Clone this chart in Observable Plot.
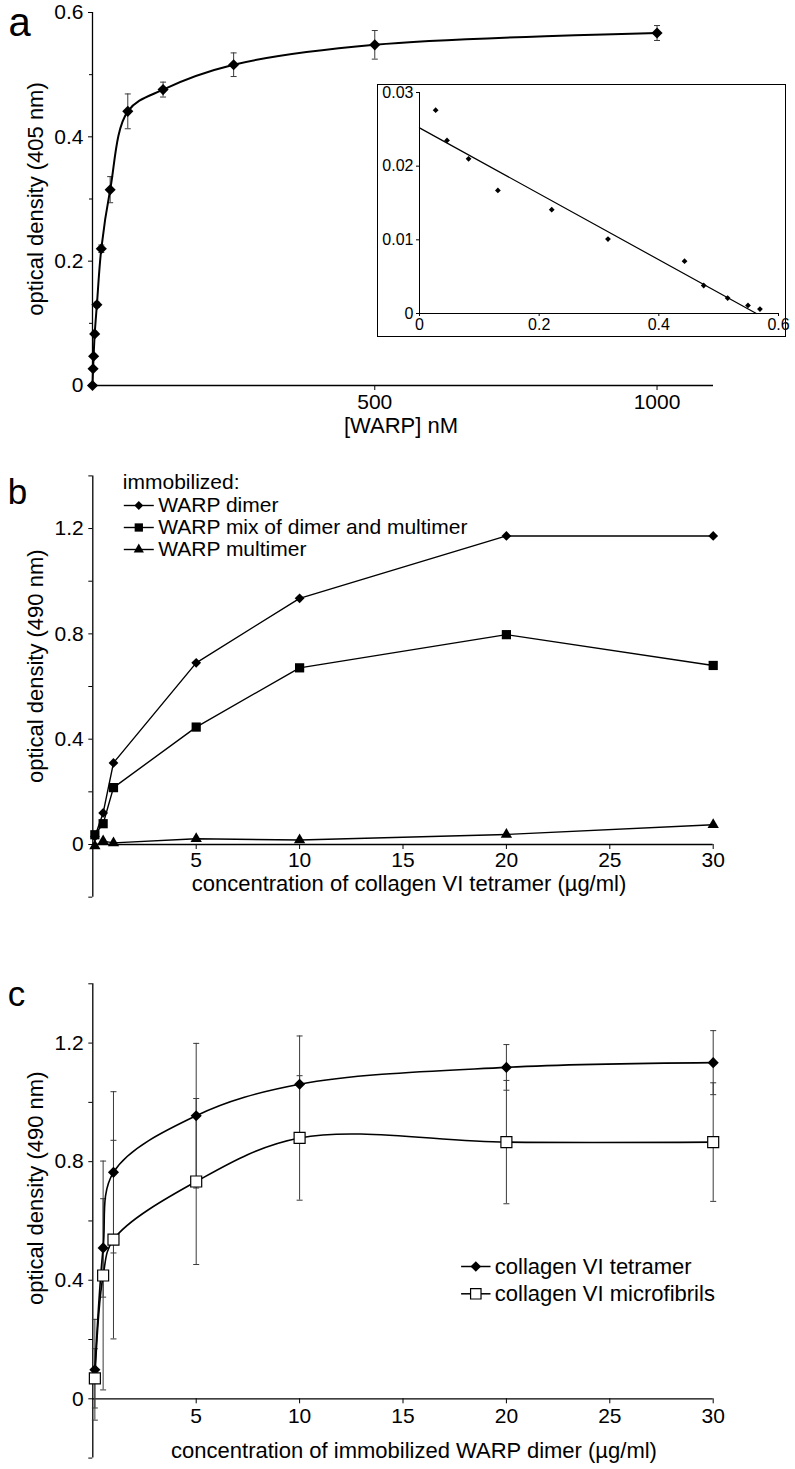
<!DOCTYPE html>
<html><head><meta charset="utf-8">
<script src="https://cdn.jsdelivr.net/npm/d3@7"></script>
<script src="https://cdn.jsdelivr.net/npm/@observablehq/plot@0.6"></script>
<style>
html,body{margin:0;padding:0;background:#fff;}
#wrap{position:relative;width:795px;height:1469px;overflow:hidden;background:#fff;}
.pane{position:absolute;}
#inset{border:1.5px solid #000;background:#fff;}
</style></head><body><div id="wrap"></div>
<script>
// ---------- Panel a: binding curve ----------
const aConc = [0, 1, 2, 3.9, 7.8, 15.6, 31.3, 62.5, 125, 250, 500, 1000];
const aOD   = [0, 0.027, 0.047, 0.083, 0.130, 0.220, 0.315, 0.441, 0.476, 0.516, 0.548, 0.567];
const aErr  = [0, 0, 0, 0, 0.004, 0.006, 0.021, 0.028, 0.012, 0.019, 0.023, 0.012];
const aXTicks = [500, 1000];
const aYTicks = [0, 0.2, 0.4, 0.6];
const aYMinor = [0.1, 0.3, 0.5];
// ---------- Panel a inset: Scatchard plot ----------
const insetX = [0.027, 0.046, 0.082, 0.131, 0.221, 0.315, 0.443, 0.475, 0.515, 0.549, 0.569];
const insetY = [0.0276, 0.0235, 0.0210, 0.0167, 0.0141, 0.0101, 0.0071, 0.0038, 0.0021, 0.0011, 0.0006];
const fitX = [0, 0.563];
const fitY = [0.0252, 0];
const insetXTicks = [0, 0.2, 0.4, 0.6];
const insetYTicks = [0, 0.01, 0.02, 0.03];
// ---------- Panel b ----------
const bConc  = [0.1, 0.5, 1, 5, 10, 20, 30];
const bDimer = [0.03, 0.12, 0.31, 0.69, 0.935, 1.172, 1.172];
const bMix   = [0.037, 0.079, 0.216, 0.446, 0.671, 0.797, 0.680];
const bMulti = [-0.006, 0.013, 0.006, 0.022, 0.017, 0.038, 0.075];
const bSeries = ["WARP dimer", "WARP mix of dimer and multimer", "WARP multimer"];
const bLegendTitle = "immobilized:";
// ---------- Panel c ----------
const cConc      = [0.1, 0.5, 1, 5, 10, 20, 30];
const cTetramer  = [0.098, 0.509, 0.764, 0.955, 1.061, 1.118, 1.134];
const cTetErr    = [0.17, 0.166, 0.272, 0.244, 0.163, 0.077, 0.108];
const cMicro     = [0.069, 0.416, 0.537, 0.733, 0.880, 0.866, 0.866];
const cMicroErr  = [0.10, 0.386, 0.335, 0.28, 0.21, 0.208, 0.20];
const cSeries = ["collagen VI tetramer", "collagen VI microfibrils"];
// shared axes for b and c
const bcXTicks = [5, 10, 15, 20, 25, 30];
const bcYTicks = [0, 0.4, 0.8, 1.2];
const bcYMinor = [-0.2, 0.2, 0.6, 1.0, 1.4];

const FONT = "'Liberation Sans', Arial, Helvetica, sans-serif";
const fmt = d => String(d);
const hline = w => ({draw(ctx) { ctx.moveTo(-w, 0); ctx.lineTo(w, 0); }});
const ERR = "#3a3a3a";
const style = {fontFamily: FONT, fontSize: "21px", color: "#000", background: "transparent", overflow: "visible"};

function errMarks(data, cap) {
  const d = data.filter(v => v.e > 0);
  return [
    Plot.ruleX(d, {x: "x", y1: v => v.y - v.e, y2: v => v.y + v.e, stroke: ERR, strokeWidth: 1}),
    Plot.dot(d, {x: "x", y: v => v.y + v.e, symbol: hline(cap), fill: "none", stroke: ERR, strokeWidth: 1}),
    Plot.dot(d, {x: "x", y: v => v.y - v.e, symbol: hline(cap), fill: "none", stroke: ERR, strokeWidth: 1})
  ];
}
function label(txt, opts) {
  return Plot.text([txt], {text: d => d, fill: "#000", textAnchor: "middle", lineAnchor: "middle", ...opts});
}
function place(el, left, top, id) {
  const div = document.createElement("div");
  div.className = "pane";
  if (id) div.id = id;
  div.style.left = left + "px";
  div.style.top = top + "px";
  div.appendChild(el);
  document.getElementById("wrap").appendChild(div);
}

// ===== Panel a =====
const aData = aConc.map((x, i) => ({x, y: aOD[i], e: aErr[i]}));
const plotA = Plot.plot({
  width: 795, height: 440,
  marginLeft: 92, marginRight: 82, marginTop: 12, marginBottom: 55,
  x: {domain: [0, 1100]}, y: {domain: [0, 0.6]},
  style,
  marks: [
    Plot.ruleX([0], {stroke: "#000", strokeWidth: 1.3}),
    Plot.ruleY([0], {stroke: "#000", strokeWidth: 1.3}),
    Plot.axisY({ticks: aYTicks, tickSize: 4, tickPadding: 5, tickFormat: fmt, label: null}),
    Plot.axisY({ticks: aYMinor, tickSize: 3, tickFormat: () => "", label: null}),
    Plot.axisX({ticks: aXTicks, tickSize: 5, tickPadding: 4, tickFormat: fmt, label: null}),
    label("optical density (405 nm)", {frameAnchor: "left", rotate: -90, dx: -57, dy: 0, fontSize: 22}),
    label("[WARP] nM", {frameAnchor: "bottom", dy: 40, dx: -2, fontSize: 22}),
    label("a", {frameAnchor: "top-left", dx: -84, dy: 23, textAnchor: "start", lineAnchor: "bottom", fontSize: 40}),
    ...errMarks(aData, 3),
    Plot.line(aData, {x: "x", y: "y", curve: "catmull-rom", stroke: "#000", strokeWidth: 2}),
    Plot.dot(aData, {x: "x", y: "y", symbol: "diamond2", r: 5, fill: "#000", stroke: "none"})
  ]
});
place(plotA, 0, 0);

// ===== Inset =====
const insetData = insetX.map((x, i) => ({x, y: insetY[i]}));
const fitData = fitX.map((x, i) => ({x, y: fitY[i]}));
const plotInset = Plot.plot({
  width: 407, height: 251,
  marginLeft: 41, marginRight: 7, marginTop: 7, marginBottom: 23,
  x: {domain: [0, 0.6]}, y: {domain: [0, 0.03]},
  style: {...style, fontSize: "16px", background: "#fff"},
  marks: [
    Plot.ruleX([0], {stroke: "#000", strokeWidth: 1}),
    Plot.ruleY([0], {stroke: "#000", strokeWidth: 1}),
    Plot.axisY({ticks: insetYTicks, tickSize: 3, tickPadding: 3, tickFormat: fmt, label: null}),
    Plot.axisX({ticks: insetXTicks, tickSize: 3, tickPadding: 2, tickFormat: fmt, label: null}),
    Plot.line(fitData, {x: "x", y: "y", stroke: "#000", strokeWidth: 1.2}),
    Plot.dot(insetData, {x: "x", y: "y", symbol: "diamond2", r: 2.6, fill: "#000", stroke: "none"})
  ]
});
place(plotInset, 377, 84, "inset");

// ===== Panel b =====
const bSymbols = ["diamond2", "square", "triangle"];
const bR = [4.4, 5.2, 4.2];
const bVals = [bDimer, bMix, bMulti];
const plotB = Plot.plot({
  width: 795, height: 460,
  marginLeft: 92.3, marginRight: 82.3, marginTop: 15.4, marginBottom: 76,
  x: {domain: [0, 30]}, y: {domain: [0, 1.4]},
  style,
  marks: [
    Plot.ruleX([0], {y1: -0.2, y2: 1.4, stroke: "#000", strokeWidth: 1.3}),
    Plot.ruleY([0], {stroke: "#000", strokeWidth: 1.3}),
    Plot.axisY({ticks: bcYTicks, tickSize: 4, tickPadding: 5, tickFormat: fmt, label: null}),
    Plot.axisY({ticks: bcYMinor, tickSize: 4, tickFormat: () => "", label: null}),
    Plot.axisX({ticks: bcXTicks, tickSize: 5, tickPadding: 3, tickFormat: fmt, label: null}),
    label("optical density (490 nm)", {frameAnchor: "left", rotate: -90, dx: -57.3, dy: 6, fontSize: 22}),
    label("concentration of collagen VI tetramer (µg/ml)", {frameAnchor: "bottom", dy: 39, dx: 6, fontSize: 22}),
    label("b", {frameAnchor: "top-left", dx: -85, dy: 27.6, textAnchor: "start", lineAnchor: "bottom", fontSize: 35}),
    label(bLegendTitle, {frameAnchor: "top-left", dx: 30, dy: 6.6, textAnchor: "start", fontSize: 21}),
    ...bSeries.flatMap((name, k) => {
      const data = bConc.map((x, i) => ({x, y: bVals[k][i]}));
      const dy = 29.6 + 22 * k;
      return [
        Plot.line(data, {x: "x", y: "y", stroke: "#000", strokeWidth: 1.4}),
        Plot.dot(data, {x: "x", y: "y", symbol: bSymbols[k], r: bR[k], fill: "#000", stroke: "none"}),
        Plot.dot([0], {frameAnchor: "top-left", dx: 46, dy, symbol: hline(15), fill: "none", stroke: "#000", strokeWidth: 1.4}),
        Plot.dot([0], {frameAnchor: "top-left", dx: 46, dy, symbol: bSymbols[k], r: bR[k] * 0.9, fill: "#000", stroke: "none"}),
        label(name, {frameAnchor: "top-left", dx: 65.4, dy, textAnchor: "start", fontSize: 21})
      ];
    })
  ]
});
place(plotB, 0, 460);

// ===== Panel c =====
const cVals = [cTetramer, cMicro];
const cErrs = [cTetErr, cMicroErr];
const cSym = ["diamond2", "square"];
const cR = [5, 6.2];
const cFill = ["#000", "#fff"];
const cData = cVals.map((vals, k) => cConc.map((x, i) => ({x, y: vals[i], e: cErrs[k][i]})));
const plotC = Plot.plot({
  width: 795, height: 529,
  marginLeft: 92.3, marginRight: 82.3, marginTop: 43.3, marginBottom: 70.7,
  x: {domain: [0, 30]}, y: {domain: [0, 1.4]},
  style,
  marks: [
    Plot.ruleX([0], {y1: -0.2, y2: 1.4, stroke: "#000", strokeWidth: 1.3}),
    Plot.ruleY([0], {stroke: "#000", strokeWidth: 1.3}),
    Plot.axisY({ticks: bcYTicks, tickSize: 4, tickPadding: 5, tickFormat: fmt, label: null}),
    Plot.axisY({ticks: bcYMinor, tickSize: 4, tickFormat: () => "", label: null}),
    Plot.axisX({ticks: bcXTicks, tickSize: 5, tickPadding: 4, tickFormat: fmt, label: null}),
    label("optical density (490 nm)", {frameAnchor: "left", rotate: -90, dx: -57.3, dy: -3, fontSize: 22}),
    label("concentration of immobilized WARP dimer (µg/ml)", {frameAnchor: "bottom", dy: 51.7, dx: 11, fontSize: 22}),
    label("c", {frameAnchor: "top-left", dx: -85, dy: 21.7, textAnchor: "start", lineAnchor: "bottom", fontSize: 35}),
    ...cData.flatMap(d => errMarks(d, 3)),
    ...cData.map(d => Plot.line(d, {x: "x", y: "y", curve: "catmull-rom", stroke: "#000", strokeWidth: 1.6})),
    ...cData.map((d, k) => Plot.dot(d, {x: "x", y: "y", symbol: cSym[k], r: cR[k], fill: cFill[k], stroke: k ? "#000" : "none", strokeWidth: 1.2})),
    ...cSeries.flatMap((name, k) => {
      const dy = 282.7 + 27.3 * k;
      return [
        Plot.dot([0], {frameAnchor: "top-left", dx: 383, dy, symbol: hline(14.7), fill: "none", stroke: "#000", strokeWidth: 1.5}),
        Plot.dot([0], {frameAnchor: "top-left", dx: 383, dy, symbol: cSym[k], r: cR[k] * 0.95, fill: cFill[k], stroke: k ? "#000" : "none", strokeWidth: 1.2}),
        label(name, {frameAnchor: "top-left", dx: 402, dy, textAnchor: "start", fontSize: 22})
      ];
    })
  ]
});
place(plotC, 0, 940);
</script></body></html>
